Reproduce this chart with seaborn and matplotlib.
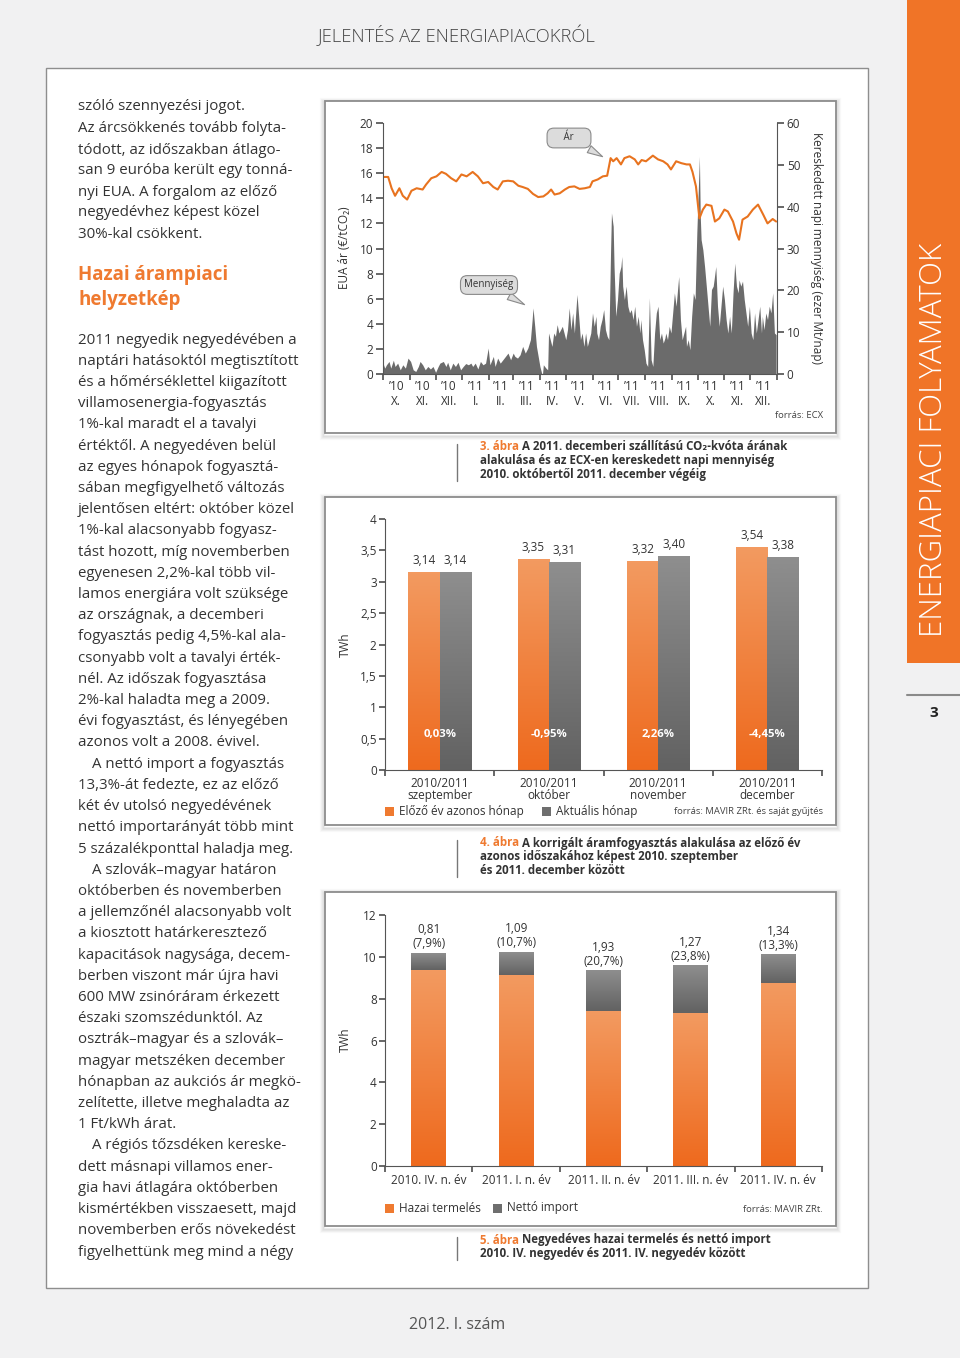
import matplotlib

matplotlib.use("Agg")
import matplotlib.pyplot as plt
import numpy as np
import pandas as pd
import seaborn as sns
from matplotlib.colors import LinearSegmentedColormap
from matplotlib.patches import Rectangle

W, H = 960, 1358
ORANGE = "#EF7A30"
ORANGE_LINE = "#E8731F"
GRAY = "#6e6e6e"
TEXT = "#333333"
PAGE_BG = "#f1f1f2"

# --- 3. ábra: EUA price (EUR/t) and traded daily volume, days from 2010-10-01
price_day = [0, 6, 10, 14, 19, 23, 28, 33, 39, 46,
             50, 56, 62, 68, 73, 79, 85, 91, 97, 104,
             110, 116, 122, 128, 133, 139, 145, 151, 157, 162,
             168, 174, 180, 186, 191, 195, 199, 205, 211, 216,
             222, 228, 234, 240, 243, 249, 255, 260, 264, 267,
             271, 276, 280, 286, 292, 296, 300, 305, 313, 319,
             325, 330, 334, 340, 346, 352, 356, 359, 363, 367,
             371, 375, 381, 385, 390, 396, 400, 406, 410, 413,
             417, 423, 429, 435, 441, 446, 452, 456]
price_eur = [15.7, 15.7, 14.8, 14.2, 14.8, 14.2, 13.9, 14.6, 14.8, 14.7,
             15.1, 15.6, 15.75, 16.1, 15.95, 15.6, 15.35, 15.9, 15.75, 16.1,
             15.75, 15.2, 15.3, 14.9, 14.7, 15.35, 15.4, 15.35, 15.0, 14.9,
             14.75, 14.35, 14.1, 14.15, 14.4, 14.7, 14.3, 14.4, 14.7, 14.9,
             14.95, 14.75, 14.8, 14.9, 15.35, 15.5, 15.75, 15.8, 17.2, 16.95,
             17.2, 16.7, 17.2, 17.35, 17.1, 16.7, 17.05, 16.95, 17.4, 17.1,
             16.95, 16.7, 16.3, 16.95, 16.8, 16.7, 16.7, 16.1, 14.95, 12.4,
             13.1, 13.5, 13.4, 12.15, 12.4, 13.1, 12.95, 12.15, 11.2, 10.7,
             12.3, 12.55, 13.1, 13.5, 12.7, 12.0, 12.35, 12.15]

volume_day = [0, 2, 4, 7, 9, 12, 14, 17, 20, 23,
              26, 29, 32, 35, 38, 41, 43, 46, 49, 52,
              55, 58, 61, 64, 66, 70, 73, 75, 78, 81,
              84, 87, 90, 93, 96, 99, 102, 104, 107, 110,
              113, 116, 119, 122, 124, 128, 130, 133, 136, 139,
              142, 145, 148, 151, 153, 156, 159, 162, 165, 168,
              171, 173, 174, 176, 178, 180, 182, 184, 185, 186,
              189, 191, 192, 194, 196, 198, 200, 202, 204, 206,
              208, 210, 212, 214, 216, 218, 220, 222, 223, 225,
              227, 229, 231, 233, 235, 237, 239, 241, 243, 245,
              247, 248, 250, 252, 254, 256, 258, 260, 262, 264,
              265, 267, 268, 270, 272, 274, 276, 277, 278, 280,
              282, 284, 286, 288, 290, 292, 294, 296, 298, 299,
              301, 303, 305, 307, 309, 311, 313, 315, 317, 319,
              321, 323, 325, 327, 328, 330, 332, 334, 336, 338,
              340, 342, 343, 345, 347, 349, 351, 352, 354, 356,
              358, 360, 362, 364, 366, 367, 368, 369, 371, 373,
              375, 377, 379, 381, 383, 384, 386, 388, 390, 392,
              394, 396, 398, 400, 402, 404, 406, 408, 410, 412,
              413, 415, 417, 419, 421, 423, 425, 427, 429, 431,
              433, 435, 437, 439, 440, 442, 444, 446, 448, 450,
              452, 454, 456]
volume_kt = [2.6, 1.4, 2.2, 3.0, 1.4, 3.3, 1.8, 2.6, 1.0, 2.2,
             1.4, 3.8, 3.0, 1.0, 0.6, 1.8, 3.0, 2.2, 1.0, 1.8,
             1.2, 1.8, 0.4, 1.8, 2.6, 3.0, 1.8, 2.8, 1.0, 2.6,
             1.8, 2.8, 1.0, 1.8, 2.5, 2.2, 2.6, 1.8, 2.6, 1.2,
             3.0, 2.2, 2.6, 6.2, 2.2, 4.2, 1.8, 3.8, 2.6, 3.4,
             4.2, 5.0, 3.4, 5.0, 4.2, 3.8, 4.6, 6.6, 5.0, 6.2,
             8.2, 13.0, 15.8, 11.4, 6.6, 4.2, 1.8, 0.2, 0.0, 2.2,
             1.4, 1.0, 9.8, 8.2, 6.6, 9.8, 9.0, 11.8, 9.8, 10.6,
             11.4, 9.8, 8.2, 10.6, 15.8, 10.6, 14.6, 9.8, 13.0, 19.0,
             13.8, 8.2, 9.8, 6.6, 9.8, 6.6, 8.2, 9.8, 14.6, 11.4,
             13.8, 9.8, 8.2, 11.4, 13.0, 15.4, 10.6, 9.0, 8.2, 29.7,
             38.5, 35.3, 25.7, 13.8, 17.8, 24.1, 25.7, 28.1, 21.0, 17.8,
             21.0, 16.2, 14.6, 15.4, 13.0, 16.2, 11.4, 13.8, 9.8, 13.0,
             8.2, 5.8, 2.6, 1.8, 18.2, 3.4, 1.8, 9.8, 14.6, 16.2,
             8.2, 9.8, 7.4, 8.6, 9.8, 8.2, 11.4, 9.8, 14.6, 19.4,
             16.2, 21.0, 23.3, 13.0, 8.2, 9.8, 11.4, 6.6, 8.2, 5.8,
             13.8, 19.4, 17.8, 33.7, 45.7, 52.0, 37.7, 32.1, 29.7, 25.7,
             21.0, 16.2, 11.4, 20.2, 21.0, 22.5, 25.7, 16.2, 11.4, 16.2,
             21.0, 17.8, 13.0, 9.8, 13.8, 9.8, 19.4, 26.5, 21.0, 19.4,
             22.5, 21.0, 22.2, 17.8, 14.6, 11.4, 16.2, 9.8, 8.2, 14.6,
             9.8, 13.0, 16.2, 9.8, 13.8, 10.6, 14.6, 13.0, 16.2, 14.6,
             19.4, 9.8, 9.4]
month_years = ["’10"] * 3 + ["’11"] * 12
month_roman = ["X.", "XI.", "XII.", "I.", "II.", "III.", "IV.", "V.", "VI.",
               "VII.", "VIII.", "IX.", "X.", "XI.", "XII."]

# --- 4. ábra: monthly consumption, TWh
cons_months = ["2010/2011\nszeptember", "2010/2011\noktóber",
               "2010/2011\nnovember", "2010/2011\ndecember"]
cons_prev = [3.14, 3.35, 3.32, 3.54]
cons_curr = [3.14, 3.31, 3.40, 3.38]
cons_prev_labels = ["3,14", "3,35", "3,32", "3,54"]
cons_curr_labels = ["3,14", "3,31", "3,40", "3,38"]
cons_change = ["0,03%", "-0,95%", "2,26%", "-4,45%"]

# --- 5. ábra: quarterly domestic generation and net import, TWh
quarters = ["2010. IV. n. év", "2011. I. n. év", "2011. II. n. év",
            "2011. III. n. év", "2011. IV. n. év"]
domestic = [9.39, 9.15, 7.39, 7.30, 8.76]
net_import = [0.81, 1.09, 1.93, 2.28, 1.34]
import_labels = ["0,81\n(7,9%)", "1,09\n(10,7%)", "1,93\n(20,7%)",
                 "1,27\n(23,8%)", "1,34\n(13,3%)"]

body_lines = [
    (107, "szóló szennyezési jogot."),
    (128, "Az árcsökkenés tovább folyta-"),
    (150, "tódott, az időszakban átlago-"),
    (171, "san 9 euróba került egy tonná-"),
    (192, "nyi EUA. A forgalom az előző"),
    (213, "negyedévhez képest közel"),
    (234, "30%-kal csökkent."),
]
body_lines2 = [
    "2011 negyedik negyedévében a",
    "naptári hatásoktól megtisztított",
    "és a hőmérséklettel kiigazított",
    "villamosenergia-fogyasztás",
    "1%-kal maradt el a tavalyi",
    "értéktől. A negyedéven belül",
    "az egyes hónapok fogyasztá-",
    "sában megfigyelhető változás",
    "jelentősen eltért: október közel",
    "1%-kal alacsonyabb fogyasz-",
    "tást hozott, míg novemberben",
    "egyenesen 2,2%-kal több vil-",
    "lamos energiára volt szüksége",
    "az országnak, a decemberi",
    "fogyasztás pedig 4,5%-kal ala-",
    "csonyabb volt a tavalyi érték-",
    "nél. Az időszak fogyasztása",
    "2%-kal haladta meg a 2009.",
    "évi fogyasztást, és lényegében",
    "azonos volt a 2008. évivel.",
    "\tA nettó import a fogyasztás",
    "13,3%-át fedezte, ez az előző",
    "két év utolsó negyedévének",
    "nettó importarányát több mint",
    "5 százalékponttal haladja meg.",
    "\tA szlovák–magyar határon",
    "októberben és novemberben",
    "a jellemzőnél alacsonyabb volt",
    "a kiosztott határkeresztező",
    "kapacitások nagysága, decem-",
    "berben viszont már újra havi",
    "600 MW zsinóráram érkezett",
    "északi szomszédunktól. Az",
    "osztrák–magyar és a szlovák–",
    "magyar metszéken december",
    "hónapban az aukciós ár megkö-",
    "zelítette, illetve meghaladta az",
    "1 Ft/kWh árat.",
    "\tA régiós tőzsdéken kereske-",
    "dett másnapi villamos ener-",
    "gia havi átlagára októberben",
    "kismértékben visszaesett, majd",
    "novemberben erős növekedést",
    "figyelhettünk meg mind a négy",
]

sns.set_theme(style="ticks")
plt.rcParams["font.family"] = ["Open Sans", "DejaVu Sans"]
plt.rcParams["axes.edgecolor"] = "#555555"
plt.rcParams["axes.linewidth"] = 0.8
plt.rcParams["xtick.color"] = "#555555"
plt.rcParams["ytick.color"] = "#555555"
plt.rcParams["xtick.labelcolor"] = TEXT
plt.rcParams["ytick.labelcolor"] = TEXT
plt.rcParams["xtick.labelsize"] = 8.5
plt.rcParams["ytick.labelsize"] = 8.5

BODY_SIZE = 10.8
CAP_SIZE = 8.3

fig = plt.figure(figsize=(W / 100, H / 100), dpi=100, facecolor=PAGE_BG)
page = fig.add_axes([0, 0, 1, 1], zorder=0)
page.set_xlim(0, W)
page.set_ylim(H, 0)
page.axis("off")

GRAD = np.linspace(0, 1, 64).reshape(-1, 1)
orange_cmap = LinearSegmentedColormap.from_list("o", ["#EE6A1E", "#F39A60"])
gray_cmap = LinearSegmentedColormap.from_list("g", ["#626262", "#8e8e8e"])


def chart_axes(x0, y0, x1, y1):
    ax = fig.add_axes([x0 / W, 1 - y1 / H, (x1 - x0) / W, (y1 - y0) / H], zorder=2)
    ax.set_facecolor("none")
    return ax


def chart_box(x0, y0, x1, y1):
    for k, a in [(4, 0.025), (3, 0.035), (2, 0.05), (1, 0.07)]:
        page.add_patch(Rectangle((x0 - k, y0 - k + 2), x1 - x0 + 2 * k, y1 - y0 + 2 * k,
                                 fc="none", ec="black", alpha=a, lw=1.6))
    page.add_patch(Rectangle((x0, y0), x1 - x0, y1 - y0, fc="white", ec="#8c8c8c", lw=1.3))


def paint_gradient(ax, patches, cmap):
    xlim, ylim = ax.get_xlim(), ax.get_ylim()
    for p in patches:
        x, y, w, h = p.get_x(), p.get_y(), p.get_width(), p.get_height()
        ax.imshow(GRAD, extent=(x, x + w, y, y + h), origin="lower", cmap=cmap,
                  aspect="auto", zorder=1.5, interpolation="bilinear")
        p.set_visible(False)
    ax.set_xlim(xlim)
    ax.set_ylim(ylim)


def caption(y, lines, number):
    page.plot([457, 457], [y - 3, y + 14 * len(lines) - 8], color="#777777", lw=1)
    first = page.text(480, y, number, color=ORANGE, fontsize=CAP_SIZE, fontweight="bold", va="center")
    page.annotate(" " + lines[0], xy=(1, 0), xycoords=first, va="bottom", ha="left",
                  fontsize=CAP_SIZE, fontweight="bold", color=TEXT)
    for i, line in enumerate(lines[1:], start=1):
        page.text(480, y + 13.6 * i, line, color=TEXT, fontsize=CAP_SIZE, fontweight="bold", va="center")


def legend_item(x, y, color, label):
    page.add_patch(Rectangle((x, y - 4.5), 9, 9, fc=color, ec="none"))
    page.text(x + 14, y, label, fontsize=8.5, color=TEXT, va="center")


def category_ticks(ax, labels, pad, linespacing=1.0):
    n = len(labels)
    ax.set_xticks(np.arange(-0.5, n, 1))
    ax.set_xticklabels([])
    ax.set_xticks(np.arange(n), minor=True)
    ax.set_xticklabels(labels, minor=True, linespacing=linespacing)
    ax.tick_params(axis="x", which="major", length=4, direction="out")
    ax.tick_params(axis="x", which="minor", length=0, pad=pad)
    ax.set_xlim(-0.5, n - 0.5)
    ax.tick_params(axis="y", length=4, direction="out", pad=2)
    ax.set_xlabel("")
    ax.set_ylabel("")
    sns.despine(ax=ax)


# page frame, header, side strip, footer
page.add_patch(Rectangle((46, 68), 822, 1220, fc="white", ec="#8e8e8e", lw=1.0))
page.text(457, 35, "JELENTÉS AZ ENERGIAPIACOKRÓL", ha="center", va="center",
          fontsize=13.2, color="#444444", fontweight="light")
page.add_patch(Rectangle((907, 0), 53, 663, fc="#F07427", ec="none"))
page.text(934, 440, "ENERGIAPIACI FOLYAMATOK", rotation=90, ha="center", va="center",
          fontsize=22.5, color="white", fontweight="light")
page.plot([907, 960], [695, 695], color="#8a8a8a", lw=1.5)
page.text(934, 713, "3", ha="center", va="center", fontsize=11, fontweight="bold", color="#222222")
page.text(457, 1325, "2012. I. szám", ha="center", va="center", fontsize=11.5, color="#555555")

# left text column
for y, line in body_lines:
    page.text(78, y, line, fontsize=BODY_SIZE, color=TEXT, va="center")
page.text(78, 275, "Hazai árampiaci", fontsize=13.5, fontweight="bold", color=ORANGE, va="center")
page.text(78, 300, "helyzetkép", fontsize=13.5, fontweight="bold", color=ORANGE, va="center")
for i, line in enumerate(body_lines2):
    x = 78
    if line.startswith("\t"):
        x, line = 92, line[1:]
    page.text(x, 340 + 21.21 * i, line, fontsize=BODY_SIZE, color=TEXT, va="center")

# ---------------- chart 3. ábra
chart_box(325, 101, 836, 433)
ax1 = chart_axes(383, 123, 777, 374)
ax1r = ax1.twinx()
ax1r.set_zorder(1.5)
ax1.set_zorder(2)
ax1.patch.set_visible(False)
ax1r.fill_between(volume_day, volume_kt, color="#6b6b6b", lw=0)
ax1r.set_ylim(0, 60)
ax1r.set_yticks(range(0, 61, 10))
sns.lineplot(x=price_day, y=price_eur, ax=ax1, color=ORANGE_LINE, linewidth=1.5)
ax1.set_ylim(0, 20)
ax1.set_yticks(range(0, 21, 2))

month_start = pd.date_range("2010-10-01", "2012-01-01", freq="MS")
month_pos = (month_start - month_start[0]).days.values
ax1.set_xlim(month_pos[0], month_pos[-1])
ax1.set_xticks(month_pos)
ax1.set_xticklabels([])
ax1.set_xticks((month_pos[:-1] + month_pos[1:]) / 2, minor=True)
ax1.set_xticklabels([f"{y}\n{m}" for y, m in zip(month_years, month_roman)], minor=True)
ax1.tick_params(axis="x", which="major", length=4, direction="out")
ax1.tick_params(axis="x", which="minor", length=0, pad=4)
ax1.tick_params(axis="y", length=5, direction="out", pad=2)
ax1r.tick_params(axis="y", length=5, direction="out", pad=2)
for side in ["top", "right"]:
    ax1.spines[side].set_visible(False)
for side in ["top", "left", "bottom"]:
    ax1r.spines[side].set_visible(False)

bubble = dict(boxstyle="round,pad=0.45,rounding_size=0.7", fc="#dcdcdc", ec="#8a8a8a", lw=0.8)
arrow = dict(arrowstyle="wedge,tail_width=0.8,shrink_factor=0.5", fc="#dcdcdc", ec="#8a8a8a", lw=0.8)
ax1.annotate("     Ár     ", xy=(605, 158), xycoords=page.transData, xytext=(569, 138),
             textcoords=page.transData, ha="center", va="center", fontsize=7, color=TEXT,
             bbox=bubble, arrowprops=arrow)
ax1.annotate("Mennyiség", xy=(527, 306), xycoords=page.transData, xytext=(489, 285),
             textcoords=page.transData, ha="center", va="center", fontsize=7, color=TEXT,
             bbox=dict(bubble, boxstyle="round,pad=0.4,rounding_size=0.7"), arrowprops=arrow)

page.text(345, 248, "EUA ár (€/tCO₂)", rotation=90, ha="center", va="center", fontsize=8.5, color=TEXT)
page.text(816, 248, "Kereskedett napi mennyiség (ezer Mt/nap)", rotation=-90, ha="center",
          va="center", fontsize=8.5, color=TEXT)
page.text(823, 416, "forrás: ECX", ha="right", va="center", fontsize=6.8, color="#444444")
caption(447, ["A 2011. decemberi szállítású CO₂-kvóta árának",
              "alakulása és az ECX-en kereskedett napi mennyiség",
              "2010. októbertől 2011. december végéig"], "3. ábra")

# ---------------- chart 4. ábra
chart_box(325, 497, 836, 825)
ax2 = chart_axes(385, 519, 822, 770)
cons_df = pd.DataFrame({
    "month": cons_months * 2,
    "series": ["Előző év azonos hónap"] * 4 + ["Aktuális hónap"] * 4,
    "value": cons_prev + cons_curr,
})
sns.barplot(data=cons_df, x="month", y="value", hue="series", palette=[ORANGE, GRAY],
            width=0.57, saturation=1, legend=False, errorbar=None, ax=ax2)
ax2.set_ylim(0, 4)
yt = np.arange(0, 4.01, 0.5)
ax2.set_yticks(yt)
ax2.set_yticklabels([f"{v:g}".replace(".", ",") for v in yt])
category_ticks(ax2, cons_months, pad=5, linespacing=0.95)
for container, labels in zip(ax2.containers, [cons_prev_labels, cons_curr_labels]):
    ax2.bar_label(container, labels=labels, padding=4, fontsize=8.5, color=TEXT)
paint_gradient(ax2, ax2.containers[0], orange_cmap)
paint_gradient(ax2, ax2.containers[1], gray_cmap)
for i, lab in enumerate(cons_change):
    ax2.text(i, 0.56, lab, ha="center", va="center", fontsize=8.2, fontweight="bold",
             color="white", zorder=4)
page.text(345, 645, "TWh", rotation=90, ha="center", va="center", fontsize=8.5, color=TEXT)
legend_item(385, 811, ORANGE, "Előző év azonos hónap")
legend_item(542, 811, GRAY, "Aktuális hónap")
page.text(823, 812, "forrás: MAVIR ZRt. és saját gyűjtés", ha="right", va="center",
          fontsize=6.8, color="#444444")
caption(843, ["A korrigált áramfogyasztás alakulása az előző év",
              "azonos időszakához képest 2010. szeptember",
              "és 2011. december között"], "4. ábra")

# ---------------- chart 5. ábra
chart_box(325, 892, 836, 1226)
ax3 = chart_axes(385, 915, 822, 1166)
totals = [d + m for d, m in zip(domestic, net_import)]
sns.barplot(x=quarters, y=totals, color=GRAY, width=0.4, saturation=1, errorbar=None, ax=ax3)
sns.barplot(x=quarters, y=domestic, color=ORANGE, width=0.4, saturation=1, errorbar=None, ax=ax3)
ax3.set_ylim(0, 12)
ax3.set_yticks(range(0, 13, 2))
category_ticks(ax3, quarters, pad=6)
for p, base, imp in zip(ax3.containers[0], domestic, net_import):
    p.set_y(base)
    p.set_height(imp)
paint_gradient(ax3, ax3.containers[1], orange_cmap)
paint_gradient(ax3, ax3.containers[0], gray_cmap)
for i, lab in enumerate(import_labels):
    ax3.annotate(lab, (i, totals[i]), xytext=(0, 2), textcoords="offset points", ha="center",
                 va="bottom", fontsize=8.5, color=TEXT, linespacing=1.1)
page.text(345, 1040, "TWh", rotation=90, ha="center", va="center", fontsize=8.5, color=TEXT)
legend_item(385, 1208, ORANGE, "Hazai termelés")
legend_item(493, 1208, GRAY, "Nettó import")
page.text(823, 1209, "forrás: MAVIR ZRt.", ha="right", va="center", fontsize=6.8, color="#444444")
caption(1240, ["Negyedéves hazai termelés és nettó import",
               "2010. IV. negyedév és 2011. IV. negyedév között"], "5. ábra")

fig.savefig("out.png", dpi=100, facecolor=fig.get_facecolor())
